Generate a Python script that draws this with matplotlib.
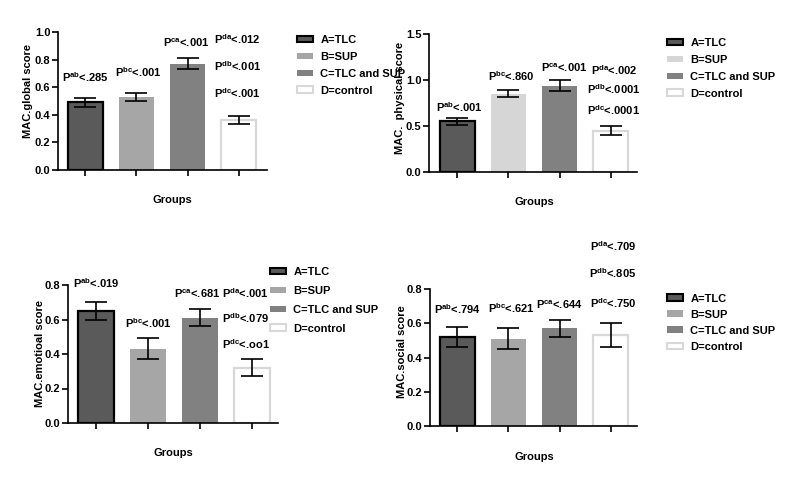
import matplotlib
matplotlib.use("Agg")
import matplotlib.pyplot as plt
from matplotlib.patches import Patch

plt.rcParams['font.family'] = ['Liberation Sans', 'DejaVu Sans']
plt.rcParams['font.weight'] = 'bold'
plt.rcParams['mathtext.fontset'] = 'custom'
plt.rcParams['mathtext.rm'] = 'Liberation Sans:bold'
plt.rcParams['mathtext.bf'] = 'Liberation Sans:bold'
plt.rcParams['mathtext.it'] = 'Liberation Sans:bold'

# ---------------- data ----------------
groups = ["A=TLC", "B=SUP", "C=TLC and SUP", "D=control"]

global_mean = [0.49, 0.53, 0.77, 0.36]
global_err = [0.03, 0.03, 0.04, 0.03]
global_p = ["ab<.285", "bc<.001", "ca<.001", "da<.012", "db<.001", "dc<.001"]

physical_mean = [0.55, 0.85, 0.94, 0.45]
physical_err = [0.04, 0.04, 0.06, 0.05]
physical_p = ["ab<.001", "bc<.860", "ca<.001", "da<.002", "db<.0001", "dc<.0001"]

emotional_mean = [0.65, 0.43, 0.61, 0.32]
emotional_err = [0.05, 0.06, 0.05, 0.05]
emotional_p = ["ab<.019", "bc<.001", "ca<.681", "da<.001", "db<.079", "dc<.oo1"]

social_mean = [0.52, 0.51, 0.57, 0.53]
social_err = [0.06, 0.06, 0.05, 0.07]
social_p = ["ab<.794", "bc<.621", "ca<.644", "da<.709", "db<.805", "dc<.750"]

ylabels = ["MAC.global score", "MAC.  physical score", "MAC.emotioal score", "MAC.social score"]

# ---------------- styling ----------------
W, H = 793, 491
fig = plt.figure(figsize=(W / 100, H / 100), dpi=100)

fills_default = ["#5a5a5a", "#a6a6a6", "#818181", "#ffffff"]
fills_phys = ["#5a5a5a", "#d6d6d6", "#818181", "#ffffff"]
edges = ["#000000", None, None, "#d8d8d8"]

def px_axes(l, t, r, b):
    return fig.add_axes([l / W, 1 - b / H, (r - l) / W, (b - t) / H])

panels = [
    dict(rect=(58, 32, 267, 170), ylim=1.0, yticks=[0, 0.2, 0.4, 0.6, 0.8, 1.0], xlim=(-0.53, 3.55),
         mean=global_mean, err=global_err, p=global_p, fills=fills_default,
         ppos=[(0, 0.67), (1.03, 0.71), (1.97, 0.92), (2.97, 0.95), (2.97, 0.755), (2.97, 0.56)],
         ylab=(-0.144, 0.57), xlab=(0.545, -0.217), leg=(297, 35.0), ls=0.62),
    dict(rect=(429, 34, 637, 172), ylim=1.5, yticks=[0, 0.5, 1.0, 1.5], xlim=(-0.55, 3.51),
         mean=physical_mean, err=physical_err, p=physical_p, fills=fills_phys,
         ppos=[(0.04, 0.71), (1.05, 1.04), (2.08, 1.13), (3.06, 1.11), (3.06, 0.90), (3.06, 0.67)],
         ylab=(-0.14, 0.54), xlab=(0.505, -0.217), leg=(667, 38.0), ls=0.62),
    dict(rect=(68, 285, 278, 423), ylim=0.8, yticks=[0, 0.2, 0.4, 0.6, 0.8], xlim=(-0.54, 3.5),
         mean=emotional_mean, err=emotional_err, p=emotional_p, fills=fills_default,
         ppos=[(0, 0.81), (1.0, 0.58), (1.94, 0.75), (2.88, 0.755), (2.88, 0.61), (2.88, 0.46)],
         ylab=(-0.133, 0.507), xlab=(0.5, -0.217), leg=(270, 267.0), ls=0.8),
    dict(rect=(430, 289, 637, 426), ylim=0.8, yticks=[0, 0.2, 0.4, 0.6, 0.8], xlim=(-0.53, 3.51),
         mean=social_mean, err=social_err, p=social_p, fills=fills_default,
         ppos=[(0, 0.68), (1.05, 0.69), (2.0, 0.71), (3.04, 1.05), (3.04, 0.89), (3.04, 0.72)],
         ylab=(-0.135, 0.54), xlab=(0.502, -0.226), leg=(667, 293.5), ls=0.55),
]

fs = 8
for i, pnl in enumerate(panels):
    ax = px_axes(*pnl["rect"])
    x = list(range(len(groups)))
    for j in x:
        ec = edges[j] if edges[j] is not None else pnl["fills"][j]
        lw = 1.6 if edges[j] is not None else 0
        ax.bar(j, pnl["mean"][j], width=0.68, color=pnl["fills"][j], edgecolor=ec,
               linewidth=lw, zorder=2)
    ax.errorbar(x, pnl["mean"], yerr=pnl["err"], fmt="none", ecolor="black",
                elinewidth=1.2, capsize=8, capthick=1.2, zorder=3)
    ax.set_xlim(*pnl["xlim"])
    ax.set_ylim(0, pnl["ylim"])
    ax.set_yticks(pnl["yticks"])
    ax.set_yticklabels(["%.1f" % v for v in pnl["yticks"]], fontsize=fs, fontweight="bold")
    ax.set_xticks(x)
    ax.set_xticklabels([])
    for s in ["top", "right"]:
        ax.spines[s].set_visible(False)
    for s in ["left", "bottom"]:
        ax.spines[s].set_linewidth(1.2)
    ax.tick_params(axis="both", direction="out", length=4, width=1.2, pad=1.5)
    ax.patch.set_alpha(0)

    for (px, py), lab in zip(pnl["ppos"], pnl["p"]):
        sup, rest = lab[:2], lab[2:]
        ax.text(px, py, r"P$^{\mathrm{" + sup + "}}$" + rest, ha="center", va="center",
                fontsize=fs, fontweight="bold", clip_on=False)

    ax.set_ylabel(ylabels[i], fontsize=fs, fontweight="bold")
    ax.yaxis.set_label_coords(*pnl["ylab"])
    ax.yaxis.label.set_va("center")
    ax.set_xlabel("Groups", fontsize=fs, fontweight="bold")
    ax.xaxis.set_label_coords(*pnl["xlab"])
    ax.xaxis.label.set_va("center")

    handles = []
    for j, g in enumerate(groups):
        ec = edges[j] if edges[j] is not None else pnl["fills"][j]
        handles.append(Patch(facecolor=pnl["fills"][j], edgecolor=ec,
                             linewidth=1.5 if edges[j] is not None else 0, label=g))
    lx, ly = pnl["leg"]
    leg = ax.legend(handles=handles, loc="upper left",
                    bbox_to_anchor=(lx / W, 1 - ly / H), bbox_transform=fig.transFigure,
                    frameon=False, borderpad=0, borderaxespad=0, fontsize=fs,
                    handlelength=1.45, handleheight=0.55, handletextpad=0.65,
                    labelspacing=pnl["ls"])
    for t in leg.get_texts():
        t.set_fontweight("bold")

fig.savefig("out.png", dpi=100)
